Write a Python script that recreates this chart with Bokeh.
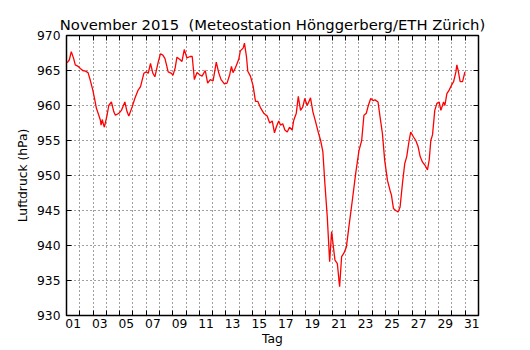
from bokeh.plotting import figure
from bokeh.models import Range1d, FixedTicker, LinearAxis
from bokeh.embed import file_html
from bokeh.resources import INLINE

# time in days since 1 Nov 2015 00:00, pressure in hPa
tag = [0.04, 0.21, 0.36, 0.54, 0.66, 0.87, 1.04, 1.22, 1.42, 1.62, 1.79, 1.98, 2.13, 2.25,
       2.43, 2.55, 2.60, 2.70, 2.75, 2.85, 3.05, 3.18, 3.38, 3.56, 3.68, 3.94, 4.13, 4.39,
       4.56, 4.69, 4.94, 5.14, 5.39, 5.57, 5.82, 6.00, 6.15, 6.32, 6.50, 6.65, 6.90, 7.07,
       7.25, 7.41, 7.65, 7.90, 8.01, 8.18, 8.31, 8.51, 8.69, 8.86, 9.06, 9.31, 9.46, 9.62,
       9.82, 10.02, 10.20, 10.44, 10.62, 10.82, 11.03, 11.27, 11.45, 11.63, 11.88, 12.08,
       12.28, 12.41, 12.53, 12.71, 12.96, 13.08, 13.29, 13.39, 13.54, 13.64, 13.84, 14.04,
       14.22, 14.39, 14.59, 14.84, 15.10, 15.29, 15.48, 15.65, 15.80, 15.97, 16.10, 16.27,
       16.43, 16.61, 16.78, 16.98, 17.10, 17.29, 17.44, 17.61, 17.78, 17.93, 18.11, 18.29,
       18.36, 18.54, 18.74, 18.94, 19.12, 19.29, 19.44, 19.62, 19.80, 19.95, 20.05, 20.20,
       20.38, 20.55, 20.70, 20.87, 21.06, 21.25, 21.51, 21.76, 22.01, 22.21, 22.38, 22.56,
       22.71, 22.89, 23.06, 23.21, 23.44, 23.59, 23.77, 23.94, 24.15, 24.34, 24.45, 24.60,
       24.77, 24.95, 25.10, 25.28, 25.45, 25.60, 25.78, 25.90, 26.11, 26.28, 26.46, 26.61,
       26.79, 26.96, 27.16, 27.29, 27.41, 27.54, 27.71, 27.87, 28.04, 28.17, 28.37, 28.47,
       28.62, 28.79, 28.97, 29.13, 29.30, 29.37, 29.47, 29.62, 29.80, 29.98]
luftdruck = [966.1, 966.5, 967.7, 966.7, 965.8, 965.6, 965.3, 965.0, 964.9, 964.7, 963.6, 962.2,
             960.8, 959.6, 958.6, 957.9, 957.2, 958.0, 957.5, 956.9, 958.6, 960.0, 960.5, 959.1,
             958.6, 958.9, 959.3, 960.5, 959.1, 958.5, 959.8, 961.0, 962.2, 962.7, 964.6, 964.8,
             964.6, 966.0, 964.6, 964.1, 966.2, 967.4, 967.2, 966.7, 964.8, 964.6, 964.3, 965.4,
             966.9, 966.6, 966.3, 968.0, 966.8, 967.0, 967.0, 963.7, 964.7, 964.4, 964.2, 965.0,
             963.2, 963.7, 963.5, 966.2, 964.7, 963.7, 963.1, 963.2, 964.4, 965.6, 964.7, 965.4,
             966.6, 967.8, 968.2, 968.9, 967.0, 964.9, 964.2, 962.8, 960.6, 960.6, 959.7, 958.9,
             958.5, 957.5, 957.8, 956.1, 957.0, 957.8, 957.2, 957.4, 956.5, 956.2, 956.9, 956.5,
             957.9, 958.9, 961.3, 959.3, 959.8, 961.0, 960.0, 960.8, 961.1, 959.1, 957.7, 956.2,
             955.0, 953.4, 948.9, 944.1, 937.7, 942.0, 940.3, 937.9, 937.4, 934.1, 938.4, 938.9,
             939.8, 942.7, 946.5, 950.3, 953.6, 955.0, 958.6, 958.9, 960.0, 961.0, 960.7, 960.8,
             960.5, 958.4, 956.0, 952.2, 949.3, 947.9, 947.2, 945.3, 945.0, 944.8, 945.5, 948.9,
             951.7, 952.7, 955.0, 956.2, 955.5, 955.0, 954.1, 952.7, 951.9, 951.5, 950.8, 952.2,
             955.0, 955.8, 959.3, 960.3, 960.5, 959.3, 960.5, 960.0, 961.7, 962.2, 962.9, 963.4,
             964.8, 965.8, 965.0, 963.4, 963.4, 964.8]

day_ticks = list(range(0, 32))
day_label_pos = [d + 0.5 for d in range(0, 31, 2)]
day_labels = ["%02d" % (d + 1) for d in range(0, 31, 2)]
y_ticks = list(range(930, 971, 5))

FONT = "DejaVu Sans"
FS = "12.3px"

p = figure(width=530, height=350, output_backend="svg", toolbar_location=None,
           x_range=Range1d(0, 31), y_range=Range1d(930, 970),
           title="November 2015 \u00a0(Meteostation Hönggerberg/ETH Zürich)",
           min_border_left=66, min_border_right=52, min_border_top=35, min_border_bottom=35)

p.background_fill_color = "white"
p.border_fill_color = "white"
p.outline_line_color = "black"
p.outline_line_width = 1.5

p.title.text_font = FONT
p.title.text_font_size = "14.8px"
p.title.text_font_style = "normal"
p.title.text_color = "black"
p.title.align = "center"
p.title.standoff = 5

# bottom axis: labels at day centres, ticks at day boundaries
xa = p.xaxis[0]
xa.ticker = FixedTicker(ticks=day_label_pos, minor_ticks=day_ticks)
xa.major_label_overrides = {pos: lab for pos, lab in zip(day_label_pos, day_labels)}
xa.major_tick_in = 0
xa.major_tick_out = 0
xa.minor_tick_in = 5
xa.minor_tick_out = 0
xa.minor_tick_line_color = "black"
xa.axis_line_color = None
xa.major_label_standoff = 3
xa.axis_label = "Tag"
xa.axis_label_standoff = 1

ya = p.yaxis[0]
ya.ticker = FixedTicker(ticks=y_ticks)
ya.major_tick_in = 5
ya.major_tick_out = 0
ya.minor_tick_in = 0
ya.minor_tick_out = 0
ya.major_tick_line_color = "black"
ya.axis_line_color = None
ya.major_label_standoff = 6
ya.axis_label = "Luftdruck (hPa)"
ya.axis_label_standoff = 4

for ax in (xa, ya):
    ax.major_label_text_font = FONT
    ax.major_label_text_font_size = FS
    ax.major_label_text_color = "black"
    ax.axis_label_text_font = FONT
    ax.axis_label_text_font_size = FS
    ax.axis_label_text_font_style = "normal"
    ax.axis_label_text_color = "black"

top = LinearAxis(ticker=FixedTicker(ticks=[], minor_ticks=day_ticks),
                 major_label_text_font_size="0px", major_label_standoff=0,
                 major_tick_in=0, major_tick_out=0, minor_tick_in=5, minor_tick_out=0,
                 minor_tick_line_color="black", axis_line_color=None)
p.add_layout(top, "above")

right = LinearAxis(ticker=FixedTicker(ticks=[], minor_ticks=y_ticks),
                   major_label_text_font_size="0px", major_label_standoff=0,
                   major_tick_in=0, major_tick_out=0, minor_tick_in=5, minor_tick_out=0,
                   minor_tick_line_color="black", axis_line_color=None)
p.add_layout(right, "right")

p.xgrid.ticker = FixedTicker(ticks=list(range(1, 31)))
p.ygrid.ticker = FixedTicker(ticks=y_ticks[1:-1])
for g in (p.xgrid[0], p.ygrid[0]):
    g.grid_line_color = "black"
    g.grid_line_alpha = 0.75
    g.grid_line_width = 1
    g.grid_line_dash = "1 3"

p.line(tag, luftdruck, line_color="red", line_width=1.3)

open("out.html", "w").write(file_html(p, INLINE))
